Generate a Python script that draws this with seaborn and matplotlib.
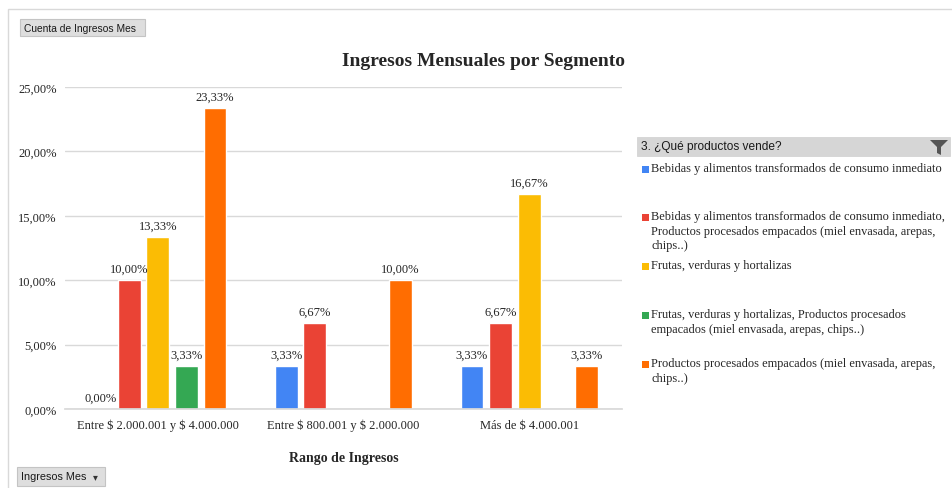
import pandas as pd
import numpy as np
import matplotlib
matplotlib.use('Agg')
import matplotlib.pyplot as plt
import matplotlib.patches as mpatches
from matplotlib.ticker import FuncFormatter
import seaborn as sns

sns.set_theme(style="white")
plt.rcParams['font.family'] = ['Liberation Serif', 'DejaVu Serif']
plt.rcParams['text.parse_math'] = False

# data (percent)
rangos = ['Entre $ 2.000.001 y $ 4.000.000', 'Entre $ 800.001 y $ 2.000.000', 'Más de $ 4.000.001']
productos = [
    'Bebidas y alimentos transformados de consumo inmediato',
    'Bebidas y alimentos transformados de consumo inmediato, Productos procesados empacados (miel envasada, arepas, chips..)',
    'Frutas, verduras y hortalizas',
    'Frutas, verduras y hortalizas, Productos procesados empacados (miel envasada, arepas, chips..)',
    'Productos procesados empacados (miel envasada, arepas, chips..)',
]
legend_labels = [
    'Bebidas y alimentos transformados de consumo inmediato',
    'Bebidas y alimentos transformados de consumo inmediato,\nProductos procesados empacados (miel envasada, arepas,\nchips..)',
    'Frutas, verduras y hortalizas',
    'Frutas, verduras y hortalizas, Productos procesados\nempacados (miel envasada, arepas, chips..)',
    'Productos procesados empacados (miel envasada, arepas,\nchips..)',
]
bebidas = [0.00, 3.33, 3.33]
bebidas_procesados = [10.00, 6.67, 6.67]
frutas = [13.33, np.nan, 16.67]
frutas_procesados = [3.33, np.nan, np.nan]
procesados = [23.33, 10.00, 3.33]
colores = ['#4285F4', '#EA4335', '#FBBC04', '#34A853', '#FF6D01']

series = [bebidas, bebidas_procesados, frutas, frutas_procesados, procesados]
rows = []
for prod, vals in zip(productos, series):
    for r, v in zip(rangos, vals):
        rows.append({'rango': r, 'producto': prod, 'pct': v})
df = pd.DataFrame(rows).dropna()

fig = plt.figure(figsize=(9.52, 4.89), dpi=100)
ax = fig.add_axes([0.0683, 0.1616, 0.585, 0.6585])

sns.barplot(data=df, x='rango', y='pct', hue='producto', order=rangos, hue_order=productos,
            palette=colores, width=0.77, gap=0.2, legend=False, ax=ax, saturation=1)

for cont in ax.containers:
    ax.bar_label(cont, fmt=lambda v: f'{v:.2f}%'.replace('.', ','), padding=4,
                 fontsize=9, color='#262626')

ax.set_ylim(0, 25)
ax.set_yticks(np.arange(0, 26, 5))
ax.yaxis.set_major_formatter(FuncFormatter(lambda v, p: f'{v:.2f}%'.replace('.', ',')))
ax.grid(axis='y', color='#d9d9d9', linewidth=1)
ax.set_axisbelow(True)
for s in ['top', 'right', 'left']:
    ax.spines[s].set_visible(False)
ax.spines['bottom'].set_color('#d9d9d9')
ax.tick_params(axis='y', length=0, labelsize=9, colors='#262626', pad=6)
ax.tick_params(axis='x', length=0, labelsize=9, colors='#262626', pad=7)
ax.set_ylabel('')
ax.set_xlabel('Rango de Ingresos', fontsize=10, fontweight='bold', labelpad=14)
fig.text(0.508, 0.874, 'Ingresos Mensuales por Segmento', ha='center', va='center',
         fontsize=14, fontweight='bold')

# outer frame
fig.patches.append(mpatches.Rectangle((8/952, -0.01), 1.0, 1 - 10/489 + 0.01, transform=fig.transFigure,
                                      fill=False, edgecolor='#d9d9d9', linewidth=1))

sans = ['Liberation Sans Narrow', 'Liberation Sans', 'DejaVu Sans']

# pivot field buttons
def boton(x0, y0, w, h, texto, flecha=False, size=7.4):
    fig.patches.append(mpatches.Rectangle((x0/952, 1 - (y0 + h)/489), w/952, h/489,
                                          transform=fig.transFigure, facecolor='#dedede',
                                          edgecolor='#c4c4c4', linewidth=0.8))
    fig.text((x0 + 4)/952, 1 - (y0 + h/2)/489, texto, ha='left', va='center',
             fontsize=size, family=sans, color='#1a1a1a')
    if flecha:
        fig.text((x0 + w - 10)/952, 1 - (y0 + h/2)/489, '▾', ha='center', va='center',
                 fontsize=7, family=['DejaVu Sans'], color='#333333')

boton(20, 20, 125, 17, 'Cuenta de Ingresos Mes')
boton(17, 468, 88, 19, 'Ingresos Mes', flecha=True, size=7.8)

# legend header
fig.patches.append(mpatches.Rectangle((637/952, 1 - 157/489), 313/952, 19/489, transform=fig.transFigure,
                                      facecolor='#d6d6d6', edgecolor='#cfcfcf', linewidth=0.5))
fig.text(641/952, 1 - 147.5/489, '3. ¿Qué productos vende?', ha='left', va='center',
         fontsize=8.6, family=sans, color='#1a1a1a')
embudo = np.array([[930, 141], [948, 141], [941, 148], [941, 156], [937, 154], [937, 148]], dtype=float)
fig.patches.append(mpatches.Polygon(np.column_stack([embudo[:, 0]/952, 1 - embudo[:, 1]/489]),
                                    closed=True, transform=fig.transFigure, facecolor='#555555',
                                    edgecolor='none'))

# legend entries
y_items = [170, 218, 267, 316, 365]
for lab, col, y in zip(legend_labels, colores, y_items):
    fig.patches.append(mpatches.Rectangle((642/952, 1 - (y + 4)/489), 7/952, 7/489,
                                          transform=fig.transFigure, facecolor=col, edgecolor='none'))
    fig.text(651/952, 1 - (y - 7)/489, lab, ha='left', va='top', fontsize=8.9,
             color='#262626', linespacing=1.3)

fig.savefig('out.png', dpi=100)
